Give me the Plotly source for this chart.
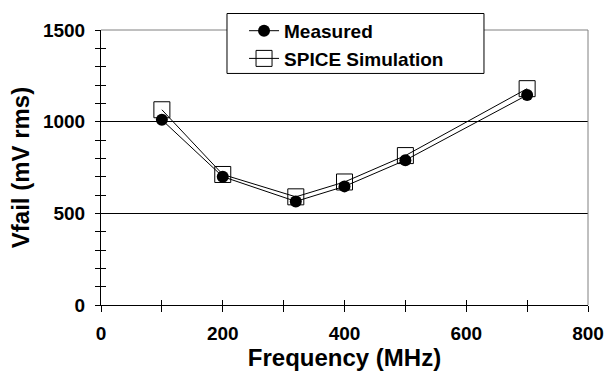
import plotly.graph_objects as go

freq = [100, 200, 320, 400, 500, 700]
measured = [1010, 700, 565, 647, 790, 1145]
spice = [1065, 712, 590, 671, 815, 1180]

FONT = "Liberation Sans, Arial, sans-serif"

fig = go.Figure()
fig.add_trace(go.Scatter(
    x=freq, y=spice, name="SPICE Simulation", mode="lines+markers",
    line=dict(color="black", width=1),
    marker=dict(symbol="square-open", size=16, color="black", line=dict(width=1)),
))
fig.add_trace(go.Scatter(
    x=freq, y=measured, name="Measured", mode="lines+markers",
    line=dict(color="black", width=1),
    marker=dict(symbol="circle", size=12, color="black"),
))
# invisible traces on overlay axes so that inner halves of the crossing ticks are drawn
fig.add_trace(go.Scatter(
    x=freq, y=measured, xaxis="x", yaxis="y2", mode="markers",
    marker=dict(opacity=0), showlegend=False, hoverinfo="skip",
))
fig.add_trace(go.Scatter(
    x=freq, y=measured, xaxis="x2", yaxis="y", mode="markers",
    marker=dict(opacity=0), showlegend=False, hoverinfo="skip",
))

fig.update_layout(
    width=609, height=377,
    margin=dict(l=101, r=21, t=30, b=72),
    paper_bgcolor="white", plot_bgcolor="white",
    font=dict(family=FONT, color="black", size=19, weight="bold"),
    showlegend=True,
    legend=dict(
        x=0.2937, y=1.066, xanchor="left", yanchor="top",
        borderwidth=0, bgcolor="rgba(0,0,0,0)",
        traceorder="reversed", font=dict(size=19, weight="bold"),
    ),
    xaxis=dict(
        range=[0, 800], dtick=200, tick0=0, automargin=False,
        showgrid=False, zeroline=False,
        showline=True, linecolor="black", linewidth=1,
        ticks="outside", ticklen=6, tickcolor="black",
        minor=dict(dtick=100, ticks="outside", ticklen=6, tickcolor="black"),
        tickfont=dict(size=19, weight="bold"),
        title=dict(text="Frequency (MHz)", font=dict(size=24, weight="bold"), standoff=6),
        ticklabelstandoff=5,
    ),
    yaxis=dict(
        range=[0, 1500], dtick=500, tick0=0, automargin=False,
        showgrid=True, gridcolor="black", gridwidth=1, zeroline=False,
        showline=True, linecolor="black", linewidth=1,
        ticks="outside", ticklen=5, tickcolor="black",
        minor=dict(dtick=100, ticks="outside", ticklen=5, tickcolor="black", showgrid=False),
        tickfont=dict(size=19, weight="bold"),
        title=dict(text="Vfail (mV rms)", font=dict(size=24, weight="bold"), standoff=6),
        ticklabelstandoff=6,
    ),
    xaxis2=dict(
        overlaying="x", anchor="y", range=[0, 800], dtick=100, tick0=0, side="bottom",
        showgrid=False, zeroline=False, showticklabels=False, automargin=False,
        ticks="inside", ticklen=5, tickcolor="black", showline=False,
    ),
    yaxis2=dict(
        overlaying="y", anchor="x", range=[0, 1500], dtick=100, tick0=0, side="left",
        showgrid=False, zeroline=False, showticklabels=False, automargin=False,
        ticks="inside", ticklen=5, tickcolor="black", showline=False,
    ),
    shapes=[
        dict(type="line", xref="paper", yref="paper", x0=1, x1=1, y0=0, y1=1,
             line=dict(color="#808080", width=1)),
        dict(type="line", xref="paper", yref="paper", x0=0, x1=1, y0=1, y1=1,
             line=dict(color="#808080", width=1)),
        # legend frame
        dict(type="rect", xref="paper", yref="paper", x0=0.2587, x1=0.7864,
             y0=0.842, y1=1.06, line=dict(color="black", width=1),
             fillcolor="white", layer="above"),
    ],
)

fig.write_html("out.html")
